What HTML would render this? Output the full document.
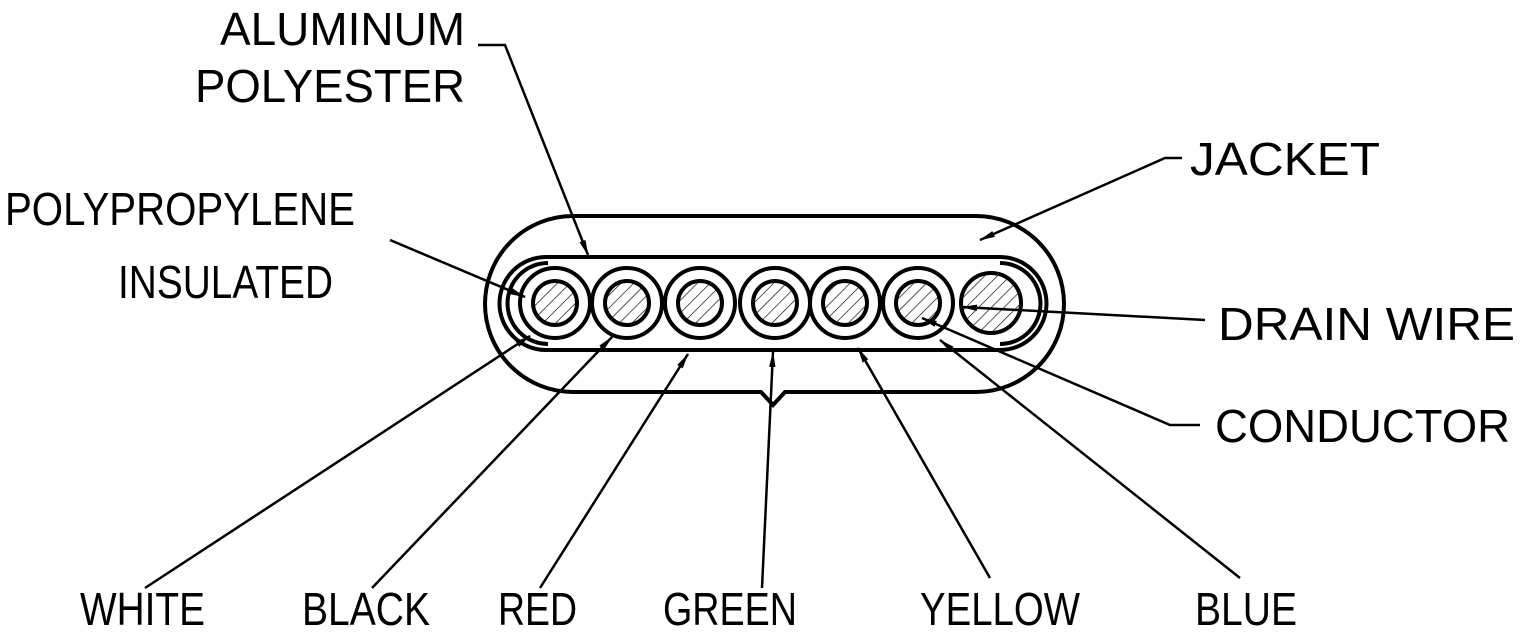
<!DOCTYPE html>
<html><head><style>html,body{margin:0;padding:0;background:#fff}svg{display:block}</style></head>
<body>
<svg width="1520" height="635" viewBox="0 0 1520 635" xmlns="http://www.w3.org/2000/svg">
<defs>
<marker id="a" markerWidth="16" markerHeight="8" refX="15" refY="4" orient="auto" markerUnits="userSpaceOnUse">
<path d="M0,0.8 L16,4 L0,7.2 Z" fill="#000"/></marker>
<pattern id="h" width="9" height="9" patternUnits="userSpaceOnUse" patternTransform="rotate(45)">
<line x1="0" y1="0" x2="0" y2="9" stroke="#000" stroke-width="1.3"/></pattern>
</defs>
<g fill="none" stroke="#000" stroke-width="4">
<path d="M573,216 H976 A88,88 0 0 1 976,392 H785 L773,405 L761,392 H573 A88,88 0 0 1 573,216 Z"/>
<path d="M546,257 H1000 A46.5,46.5 0 0 1 1000,350 H546 A46.5,46.5 0 0 1 546,257 Z"/>
<path d="M548,263 A40,40 0 0 0 548,344" />
<path d="M1000,263 A40,40 0 0 1 1000,344" />
<circle cx="555" cy="303" r="35"/><circle cx="555" cy="303" r="22" fill="url(#h)"/>
<circle cx="627" cy="303" r="35"/><circle cx="627" cy="303" r="22" fill="url(#h)"/>
<circle cx="700" cy="303" r="35"/><circle cx="700" cy="303" r="22" fill="url(#h)"/>
<circle cx="775" cy="303" r="35"/><circle cx="775" cy="303" r="22" fill="url(#h)"/>
<circle cx="845" cy="303" r="35"/><circle cx="845" cy="303" r="22" fill="url(#h)"/>
<circle cx="918" cy="303" r="35"/><circle cx="918" cy="303" r="22" fill="url(#h)"/>
<circle cx="991" cy="303" r="30" fill="url(#h)"/>
</g>
<g fill="none" stroke="#000" stroke-width="2.5">
<polyline points="478,45 505,45 588,255" marker-end="url(#a)"/>
<polyline points="1182,158 1165,158 980,240" marker-end="url(#a)"/>
<line x1="390" y1="240" x2="525" y2="297" marker-end="url(#a)"/>
<line x1="1205" y1="320" x2="962" y2="307" marker-end="url(#a)"/>
<polyline points="1200,425 1170,425 922,318" marker-end="url(#a)"/>
<line x1="145" y1="588" x2="530" y2="336" marker-end="url(#a)"/>
<line x1="372" y1="588" x2="612" y2="337" marker-end="url(#a)"/>
<line x1="540" y1="588" x2="688" y2="354" marker-end="url(#a)"/>
<line x1="762" y1="588" x2="773" y2="352" marker-end="url(#a)"/>
<line x1="990" y1="578" x2="858" y2="348" marker-end="url(#a)"/>
<line x1="1240" y1="578" x2="940" y2="340" marker-end="url(#a)"/>
</g>
<g font-family="Liberation Sans, sans-serif" font-size="46" fill="#000">
<text x="220" y="45" textLength="245" lengthAdjust="spacingAndGlyphs">ALUMINUM</text>
<text x="195" y="102" textLength="270" lengthAdjust="spacingAndGlyphs">POLYESTER</text>
<text x="1190" y="175" textLength="190" lengthAdjust="spacingAndGlyphs">JACKET</text>
<text x="5" y="225" textLength="350" lengthAdjust="spacingAndGlyphs">POLYPROPYLENE</text>
<text x="118" y="298" textLength="215" lengthAdjust="spacingAndGlyphs">INSULATED</text>
<text x="1218" y="340" textLength="297" lengthAdjust="spacingAndGlyphs">DRAIN  WIRE</text>
<text x="1215" y="442" textLength="295" lengthAdjust="spacingAndGlyphs">CONDUCTOR</text>
<text x="80" y="625" textLength="125" lengthAdjust="spacingAndGlyphs">WHITE</text>
<text x="302" y="625" textLength="128" lengthAdjust="spacingAndGlyphs">BLACK</text>
<text x="498" y="625" textLength="79" lengthAdjust="spacingAndGlyphs">RED</text>
<text x="663" y="625" textLength="134" lengthAdjust="spacingAndGlyphs">GREEN</text>
<text x="920" y="625" textLength="160" lengthAdjust="spacingAndGlyphs">YELLOW</text>
<text x="1195" y="625" textLength="102" lengthAdjust="spacingAndGlyphs">BLUE</text>
</g>
</svg>
</body></html>
